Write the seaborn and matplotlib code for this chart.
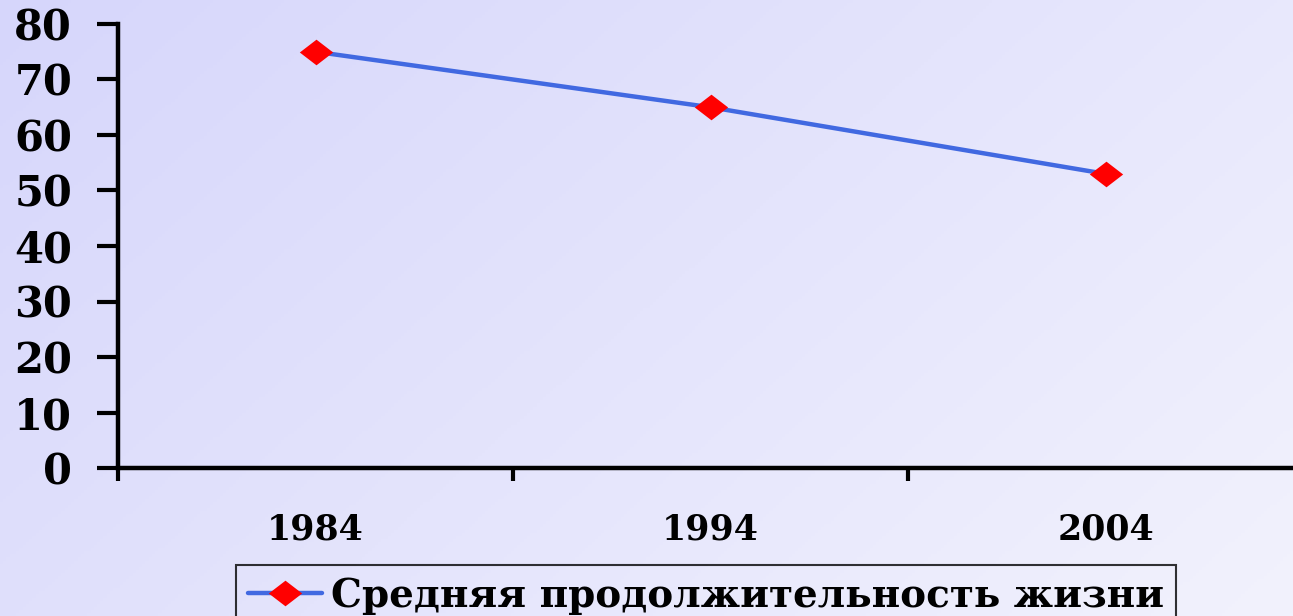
import numpy as np
import pandas as pd
import matplotlib
matplotlib.use("Agg")
import matplotlib.pyplot as plt
import seaborn as sns
from matplotlib.ticker import FixedLocator

years = ["1984", "1994", "2004"]
life_expectancy = [75, 65, 53]
series_name = "Средняя продолжительность жизни"
y_ticks = [0, 10, 20, 30, 40, 50, 60, 70, 80]

df = pd.DataFrame({"year": years, "value": life_expectancy, "series": series_name})

sns.set_theme(style="white")
plt.rcParams["font.family"] = ["DejaVu Serif"]
plt.rcParams["font.weight"] = "bold"
plt.rcParams["text.color"] = "black"

fig = plt.figure(figsize=(12.93, 6.16), dpi=100)

# gradient background
bg = fig.add_axes([0, 0, 1, 1], zorder=-10)
h, w = 200, 400
yy, xx = np.mgrid[0:1:complex(0, h), 0:1:complex(0, w)]
t = np.clip((xx * 0.65 + yy * 0.35), 0, 1)
c0 = np.array([214, 214, 251]) / 255.0
c1 = np.array([242, 242, 253]) / 255.0
img = c0[None, None, :] * (1 - t[..., None]) + c1[None, None, :] * t[..., None]
bg.imshow(img, aspect="auto", extent=[0, 1, 0, 1], origin="upper")
bg.axis("off")

ax = fig.add_axes([118 / 1293, 148 / 616, 1185 / 1293, 444 / 616])
ax.set_facecolor("none")

diamond = [(-1.3, 0), (0, 1), (1.3, 0), (0, -1), (-1.3, 0)]
sns.lineplot(data=df, x="year", y="value", hue="series", palette=["#4169E1"],
             marker=diamond, markersize=24, markerfacecolor="#FF0000",
             markeredgecolor="#FF0000", markeredgewidth=0, linewidth=3.2, ax=ax)

ax.set_xlim(-0.5, 2.5)
ax.set_ylim(0, 80)
ax.set_yticks(y_ticks)
ax.set_xlabel("")
ax.set_ylabel("")

for s in ["top", "right"]:
    ax.spines[s].set_visible(False)
for s in ["left", "bottom"]:
    ax.spines[s].set_linewidth(3.2)
    ax.spines[s].set_color("black")

ax.tick_params(axis="y", which="major", direction="out", length=15, width=3,
               pad=18, labelsize=30, colors="black", left=True)
ax.tick_params(axis="x", which="major", length=0, pad=32, labelsize=25,
               colors="black", bottom=True)
ax.xaxis.set_minor_locator(FixedLocator([-0.5, 0.5, 1.5, 2.5]))
ax.tick_params(axis="x", which="minor", direction="out", length=9, width=3,
               colors="black", bottom=True)
for lab in ax.get_xticklabels() + ax.get_yticklabels():
    lab.set_fontweight("bold")

ax.get_legend().remove()
handles, labels = ax.get_legend_handles_labels()
leg = fig.legend(handles, labels, loc="upper center",
                 bbox_to_anchor=(706 / 1293, 1 - 565 / 616),
                 frameon=True, fancybox=False, edgecolor="black",
                 prop={"family": "DejaVu Serif", "weight": "bold", "size": 28},
                 labelcolor="black",
                 handlelength=1.9, handletextpad=0.25, borderpad=0.3,
                 borderaxespad=0)
leg.get_frame().set_facecolor("none")
leg.get_frame().set_linewidth(1.5)

fig.savefig("out.png", dpi=100)
